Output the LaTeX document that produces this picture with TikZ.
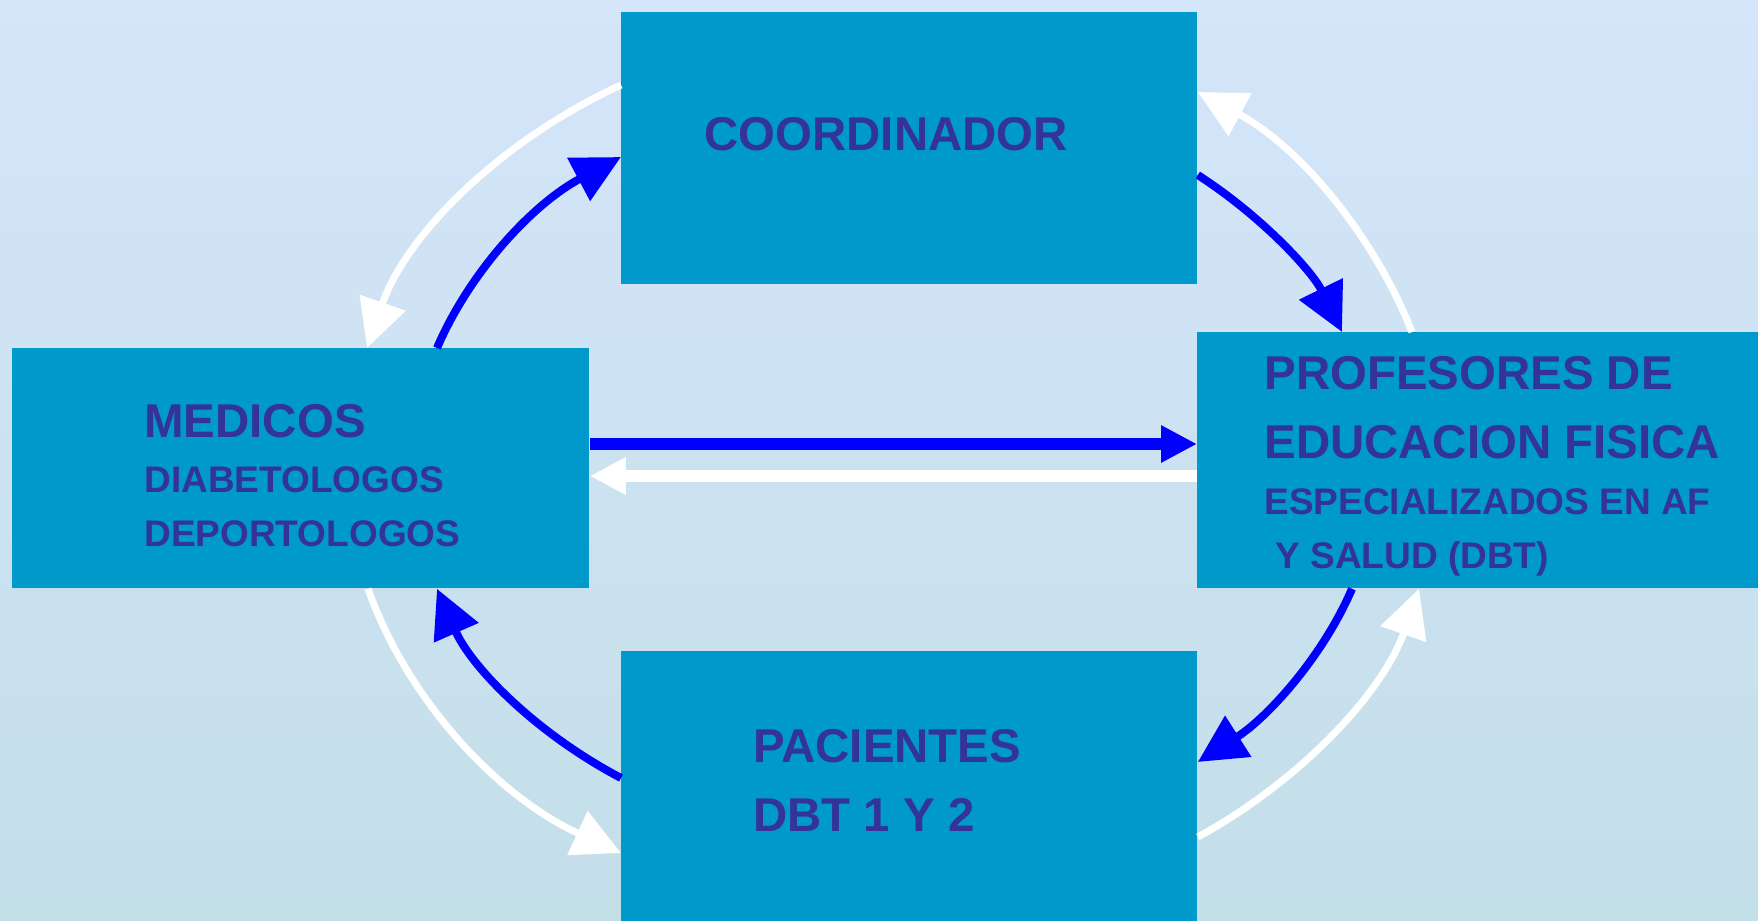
\documentclass[tikz,border=0pt]{standalone}
\usepackage{fontspec}
\setmainfont{Liberation Sans}
\usepackage{xcolor}
\usetikzlibrary{arrows.meta,positioning}

\definecolor{boxblue}{HTML}{0099CC}
\definecolor{inkblue}{HTML}{333399}
\definecolor{arrowblue}{HTML}{0000FF}
\definecolor{skytop}{HTML}{D5E5FA}
\definecolor{skybot}{HTML}{C3DFE8}

\begin{document}
\begin{tikzpicture}[x=0.5pt,y=0.5pt,
        box/.style={fill=boxblue,anchor=north west},
        big/.style={anchor=base west,text=inkblue,font=\fontsize{23.7pt}{28pt}\selectfont\bfseries},
        small/.style={anchor=base west,text=inkblue,font=\fontsize{18.5pt}{22pt}\selectfont\bfseries},
        flowblue/.style={draw=arrowblue,line width=4pt,-{Triangle[length=24pt,width=23.5pt]}},
        flowwhite/.style={draw=white,line width=3.5pt,-{Triangle[length=24pt,width=23.5pt]}},
        straightblue/.style={draw=arrowblue,line width=6pt,-{Triangle[length=18pt,width=17.5pt]}},
        straightwhite/.style={draw=white,line width=6pt,-{Triangle[length=18pt,width=17.5pt]}}]
        \tikzstyle{every node}+=[inner sep=0pt]
        \useasboundingbox (0,0) rectangle (1758,-921);
        \shade [top color=skytop,bottom color=skybot] (0,0) rectangle (1758,-921);
        % boxes
        \node [box,minimum width=288pt,minimum height=136pt] (coord) at (621,-12) {};
        \node [box,minimum width=288.5pt,minimum height=120pt] (med) at (12,-348) {};
        \node [box,minimum width=280.5pt,minimum height=128pt] (prof) at (1197,-332) {};
        \node [box,minimum width=288pt,minimum height=135pt] (pac) at (621,-651) {};
        % labels
        \node [big] (coordtxt) at (704,-150) {COORDINADOR};
        \node [big] (medtxt) at (144,-437) {MEDICOS};
        \node [small] (diabtxt) at (144,-492) {DIABETOLOGOS};
        \node [small] (deptxt) at (144,-546) {DEPORTOLOGOS};
        \node [big] (proftxt) at (1264,-389) {PROFESORES DE};
        \node [big] (edutxt) at (1264,-458) {EDUCACION FISICA};
        \node [small] (esptxt) at (1264,-514) {ESPECIALIZADOS EN AF};
        \node [small] (saltxt) at (1275,-568) {Y SALUD (DBT)};
        \node [big] (pactxt) at (753,-762) {PACIENTES};
        \node [big] (dbttxt) at (753,-831) {DBT 1 Y 2};
        % straight links
        \draw [straightblue] ([shift={(0,-96)}]med.north east) -- ([shift={(0,-112)}]prof.north west);
        \draw [straightwhite] ([shift={(0,-144)}]prof.north west) -- ([shift={(0,-128)}]med.north east);
        % inner ring (blue)
        \draw [flowblue] ([shift={(425,0)}]med.north west) .. controls +(33.5,77.9) and +(-87,-46.1) .. ([shift={(0,-145)}]coord.north west);
        \draw [flowblue] ([shift={(0,-163)}]coord.north east) .. controls +(64.1,-41.3) and +(-29.7,60.6) .. ([shift={(145,0)}]prof.north west);
        \draw [flowblue] ([shift={(155,0)}]prof.south west) .. controls +(-28.8,-67.2) and +(70.3,44.8) .. ([shift={(0,-111)}]pac.north east);
        \draw [flowblue] ([shift={(0,-127)}]pac.north west) .. controls +(-86.8,45.7) and +(33.9,-77.3) .. ([shift={(425,0)}]med.south west);
        % outer ring (white)
        \draw [flowwhite] ([shift={(0,-73)}]coord.north west) .. controls +(-124.1,-57.3) and +(38.6,111.4) .. ([shift={(355,0)}]med.north west);
        \draw [flowwhite] ([shift={(215,0)}]prof.north west) .. controls +(-37.5,95.3) and +(102.8,-55.3) .. ([shift={(0,-80)}]coord.north east);
        \draw [flowwhite] ([shift={(0,-186)}]pac.north east) .. controls +(106.7,58.3) and +(-34.8,-100.4) .. ([shift={(222,0)}]prof.south west);
        \draw [flowwhite] ([shift={(356,0)}]med.south west) .. controls +(39.2,-110.8) and +(-123.8,56.8) .. ([shift={(0,-202)}]pac.north west);
\end{tikzpicture}
\end{document}
